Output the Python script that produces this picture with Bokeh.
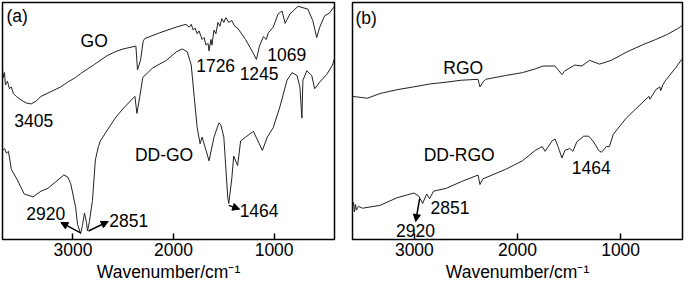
from bokeh.plotting import figure
from bokeh.layouts import row
from bokeh.models import Range1d, FixedTicker, ColumnDataSource, Arrow, NormalHead
from bokeh.core.properties import value
from bokeh.embed import file_html
from bokeh.resources import INLINE

# ---------------- data (wavenumber in cm-1, transmittance in a.u.) ----------------
go_wn = [3700, 3690, 3680, 3671, 3651, 3631, 3612, 3592, 3563, 3513, 3464, 3415, 3366, 3317,
         3219, 3121, 3052, 2973, 2924, 2796, 2659, 2580, 2502, 2374, 2358, 2328, 2302, 2286,
         2138, 1974, 1876, 1844, 1824, 1805, 1785, 1765, 1746, 1716, 1697, 1677, 1657, 1647,
         1628, 1618, 1598, 1579, 1559, 1539, 1520, 1500, 1480, 1451, 1421, 1392, 1363, 1284,
         1215, 1176, 1146, 1107, 1078, 1058, 1009, 960, 921, 891, 842, 763, 665, 616, 577,
         547, 498, 449, 400]
go_t = [179, 171, 176, 163, 167, 159, 161, 154, 151, 147, 144, 143, 146, 151,
        156, 161, 166, 171, 175, 184, 194, 198, 201, 204, 179, 189, 209, 212,
        218, 224, 227, 224, 227, 221, 223, 217, 220, 211, 213, 205, 207, 199,
        211, 205, 221, 217, 229, 225, 233, 229, 234, 229, 231, 225, 223, 211,
        198, 190, 204, 214, 211, 218, 224, 238, 241, 228, 238, 246, 243, 231, 213,
        224, 236, 239, 246]

ddgo_wn = [3700, 3680, 3661, 3641, 3612, 3553, 3484, 3396, 3317, 3248, 3170, 3091, 3052, 3022,
           2973, 2954, 2924, 2905, 2885, 2865, 2855, 2836, 2806, 2777, 2747, 2728, 2580, 2502,
           2384, 2364, 2335, 2305, 2207, 2070, 1972, 1913, 1864, 1824, 1795, 1765, 1736, 1716,
           1677, 1647, 1598, 1549, 1530, 1500, 1461, 1451, 1421, 1402, 1363, 1333, 1284, 1206,
           1117, 1068, 1009, 940, 872, 822, 773, 744, 724, 714, 675, 626, 597, 547, 478, 420, 400]
ddgo_t = [94, 96, 91, 93, 74, 63, 48, 45, 51, 54, 61, 68, 66, 59,
          34, 16, 6, 15, 28, 18, 9, 19, 41, 84, 98, 104, 128, 138,
          151, 133, 151, 171, 181, 189, 198, 201, 198, 184, 151, 118, 101, 108,
          94, 83, 108, 123, 121, 108, 44, 38, 64, 88, 78, 104, 108, 114,
          94, 108, 118, 141, 168, 176, 173, 161, 128, 168, 178, 173, 159, 166, 174, 184, 191]

rgo_wn = [3600, 3456, 3332, 3169, 3006, 2853, 2690, 2546, 2383, 2364, 2335, 2307, 2115, 1952,
          1828, 1751, 1636, 1607, 1569, 1540, 1492, 1444, 1377, 1301, 1205, 1090, 937, 774,
          659, 553, 438, 400]
rgo_t = [151, 149, 154, 158, 161, 164, 166, 168, 169, 161, 166, 169, 173, 176,
         180, 183, 183, 179, 174, 178, 181, 184, 183, 189, 185, 189, 198, 206,
         211, 216, 223, 226]

ddrgo_wn = [3600, 3590, 3581, 3571, 3562, 3543, 3504, 3332, 3169, 3006, 2958, 2920, 2881, 2853,
            2814, 2690, 2546, 2383, 2364, 2335, 2115, 1952, 1828, 1760, 1732, 1665, 1636, 1607,
            1569, 1540, 1492, 1463, 1425, 1358, 1310, 1262, 1214, 1186, 1138, 1109, 1071, 946,
            822, 726, 716, 659, 620, 611, 592, 563, 467, 400]
ddrgo_t = [34, 39, 29, 37, 31, 35, 33, 36, 44, 49, 46, 38, 48, 43,
           51, 54, 61, 68, 58, 64, 74, 83, 94, 98, 93, 104, 106, 98,
           86, 94, 96, 93, 103, 109, 109, 103, 94, 92, 98, 98, 111, 128,
           141, 151, 148, 158, 161, 157, 163, 168, 181, 191]

# labels (text, x, y)
a_text = ["(a)", "GO", "3405", "1726", "1245", "1069", "DD-GO", "1464", "2920", "2851"]
a_tx = [3661, 2924, 3582, 1775, 1343, 1068, 2384, 1343, 3464, 2639]
a_ty = [236, 209, 126, 184, 175, 195, 89, 31, 27, 20]

b_text = ["(b)", "RGO", "DD-RGO", "1464", "2851", "2920"]
b_tx = [3571, 2719, 2910, 1473, 2843, 3178]
b_ty = [234, 181, 89, 76, 34, 10]

# arrows (start on curve -> end at label)
a_ax0 = [2924, 2845, 1451]
a_ay0 = [7, 9, 36]
a_ax1 = [3120, 2649, 1343]
a_ay1 = [18, 19, 32]

b_ax0 = [2949]
b_ay0 = [43]
b_ax1 = [2987]
b_ay1 = [19]

ticks = [3000, 2000, 1000]
x_title = "Wavenumber/cm\u207b\u00b9"
FONT = "Liberation Sans"


def make_panel(width, xr, left, right, series, txt, tx, ty, ax0, ay0, ax1, ay1):
    p = figure(width=width, height=284, output_backend="svg", toolbar_location=None,
               x_range=Range1d(*xr), y_range=Range1d(0, 250), y_axis_location=None,
               min_border_left=left, min_border_right=right, min_border_top=2,
               min_border_bottom=0)
    p.grid.visible = False
    p.outline_line_color = "black"
    p.outline_line_width = 1.5
    p.background_fill_color = "white"
    p.border_fill_color = "white"
    for xs, ys in series:
        p.line(xs, ys, line_color="#222222", line_width=1)
    src = ColumnDataSource(dict(x=tx, y=ty, t=txt))
    p.text(x="x", y="y", text="t", source=src, text_font=value(FONT),
           text_font_size="17.5px", text_baseline="middle", text_align="left",
           text_color="black")
    asrc = ColumnDataSource(dict(x0=ax0, y0=ay0, x1=ax1, y1=ay1))
    p.add_layout(Arrow(end=NormalHead(size=7, fill_color="black", line_color="black"),
                       x_start="x0", y_start="y0", x_end="x1", y_end="y1",
                       line_width=1.5, line_color="black", source=asrc))
    ax = p.xaxis[0]
    ax.ticker = FixedTicker(ticks=ticks)
    ax.major_tick_in = 6
    ax.major_tick_out = 0
    ax.major_tick_line_width = 1.5
    ax.minor_tick_line_color = None
    ax.axis_line_color = None
    ax.major_label_text_font = FONT
    ax.major_label_text_font_size = "17.5px"
    ax.major_label_text_color = "black"
    ax.major_label_standoff = 3
    ax.axis_label = x_title
    ax.axis_label_text_font = FONT
    ax.axis_label_text_font_size = "17.5px"
    ax.axis_label_text_font_style = "normal"
    ax.axis_label_text_color = "black"
    ax.axis_label_standoff = 3
    return p


pa = make_panel(343, (3700, 400), 2, 9, [(go_wn, go_t), (ddgo_wn, ddgo_t)],
                a_text, a_tx, a_ty, a_ax0, a_ay0, a_ax1, a_ay1)
pb = make_panel(341, (3600, 400), 9, 2, [(rgo_wn, rgo_t), (ddrgo_wn, ddrgo_t)],
                b_text, b_tx, b_ty, b_ax0, b_ay0, b_ax1, b_ay1)

layout = row(pa, pb)
open("out.html", "w").write(file_html(layout, INLINE))
